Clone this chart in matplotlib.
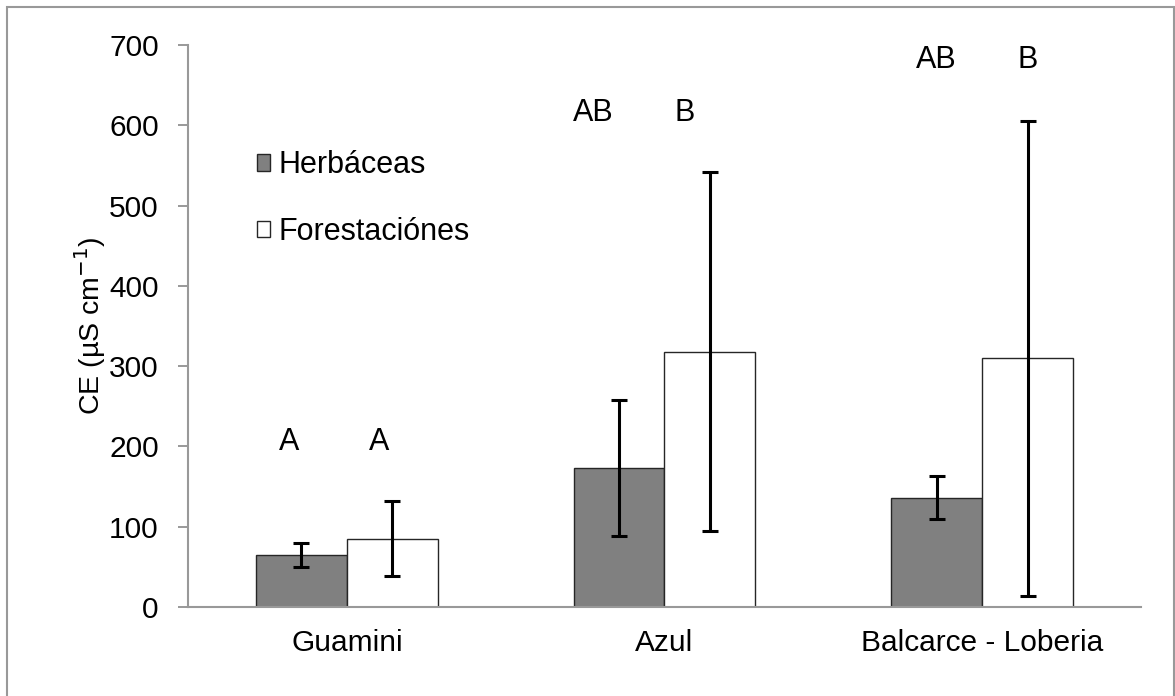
import matplotlib.pyplot as plt
from matplotlib.patches import Rectangle
import numpy as np

plt.rcParams['font.family'] = ['Liberation Sans', 'DejaVu Sans']

sites = ["Guamini", "Azul", "Balcarce - Loberia"]
herb = [65, 173, 136]
herb_err = [15, 85, 27]
forest = [85, 318, 310]
forest_err = [47, 224, 296]
herb_letters = ["A", "AB", "AB"]
forest_letters = ["A", "B", "B"]
letter_y = [205, 615, 682]

fig = plt.figure(figsize=(11.75, 6.96), dpi=100)
ax = fig.add_axes([0.16, 0.128, 0.811, 0.807])

x = np.arange(len(sites))
w = 0.286
ax.bar(x - w / 2, herb, w, color="#808080", edgecolor="#262626", linewidth=1.0, label="Herbáceas")
ax.bar(x + w / 2, forest, w, color="white", edgecolor="#262626", linewidth=1.0, label="Forestaciónes")
ax.errorbar(x - w / 2, herb, yerr=herb_err, fmt="none", ecolor="black", elinewidth=2.2, capsize=6, capthick=2.2)
ax.errorbar(x + w / 2, forest, yerr=forest_err, fmt="none", ecolor="black", elinewidth=2.2, capsize=6, capthick=2.2)

shift = [0.04, 0.08, 0.0]
for i in range(len(sites)):
    ax.text(x[i] - w / 2 - shift[i], letter_y[i], herb_letters[i], ha="center", va="center", fontsize=22)
    ax.text(x[i] + w / 2 - shift[i], letter_y[i], forest_letters[i], ha="center", va="center", fontsize=22)

ax.set_xlim(-0.5, 2.5)
ax.set_ylim(0, 700)
ax.set_yticks(range(0, 701, 100))
ax.set_xticks(x)
ax.set_xticklabels(sites, fontsize=21.5)
ax.tick_params(axis="y", labelsize=21.5, length=7, color="#888888", width=1.2, pad=14)
ax.tick_params(axis="x", length=0, pad=16)
for s in ["top", "right"]:
    ax.spines[s].set_visible(False)
for s in ["left", "bottom"]:
    ax.spines[s].set_color("#999999")
    ax.spines[s].set_linewidth(1.5)

ax.set_ylabel("CE (µS cm$^{-1}$)", fontsize=20.5, labelpad=1)

ax.legend(loc="upper left", bbox_to_anchor=(0.056, 0.84), frameon=False, fontsize=22, borderpad=0,
          handlelength=0.45, handleheight=0.45, handletextpad=0.25, labelspacing=1.2)

fig.patches.append(Rectangle((0.006, -0.01), 0.993, 1.0, transform=fig.transFigure,
                             fill=False, edgecolor="#999999", linewidth=1.5))

fig.savefig("out.png", dpi=100)
